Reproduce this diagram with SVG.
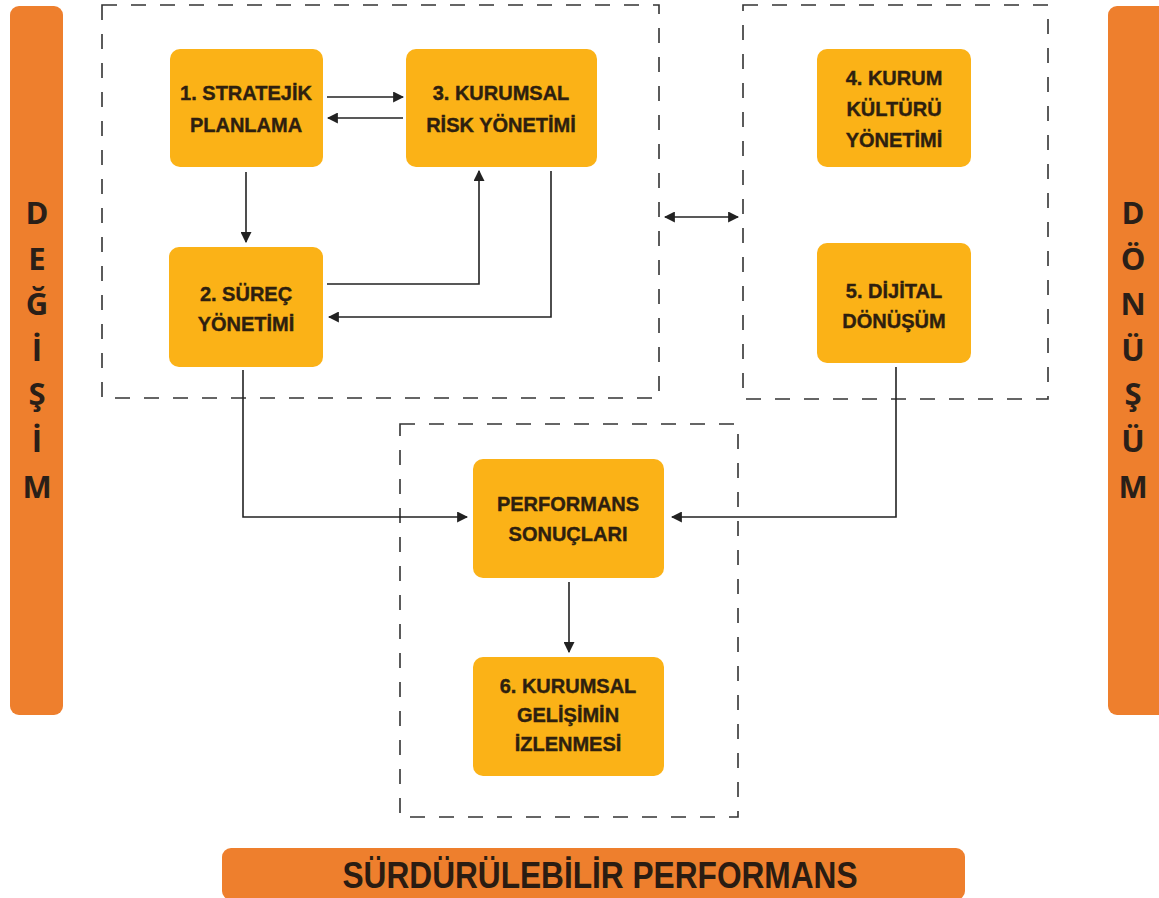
<svg xmlns="http://www.w3.org/2000/svg" width="1159" height="898" viewBox="0 0 1159 898">
<defs>
<style>
.bar{fill:#EE7F2D;}
.node{fill:#FBB217;}
.nt{font-family:"Liberation Sans",Arial,sans-serif;font-weight:700;font-size:20px;fill:#2E1F0F;stroke:#2E1F0F;stroke-width:0.4;text-anchor:middle;}
.vt{font-family:"Open Sans","Liberation Sans",sans-serif;font-weight:700;font-size:31px;fill:#2A1F18;text-anchor:middle;}
.bt{font-family:"Liberation Sans",Arial,sans-serif;font-weight:700;font-size:36px;fill:#2A1C12;text-anchor:middle;}
.dash{fill:none;stroke:#333;stroke-width:1.6;stroke-dasharray:15 14;}
.con{fill:none;stroke:#222;stroke-width:1.6;}
</style>
<marker id="ah" viewBox="0 0 10 10" refX="9" refY="5" markerWidth="11" markerHeight="11" markerUnits="userSpaceOnUse" orient="auto-start-reverse">
<path d="M0,0 L10,5 L0,10 z" fill="#222"/>
</marker>
</defs>
<rect width="1159" height="898" fill="#ffffff"/>

<g id="bar-degisim">
<rect class="bar" x="10" y="6" width="53" height="709" rx="9"/>
<text class="vt" x="37" y="224">D</text>
<text class="vt" x="37" y="270">E</text>
<text class="vt" x="37" y="315">Ğ</text>
<text class="vt" x="37" y="361">İ</text>
<text class="vt" x="37" y="405">Ş</text>
<text class="vt" x="37" y="452">İ</text>
<text class="vt" x="37" y="498">M</text>
</g>

<g id="bar-donusum">
<rect class="bar" x="1108" y="6" width="60" height="709" rx="9"/>
<text class="vt" x="1133" y="224">D</text>
<text class="vt" x="1133" y="270">Ö</text>
<text class="vt" x="1133" y="315">N</text>
<text class="vt" x="1133" y="361">Ü</text>
<text class="vt" x="1133" y="405">Ş</text>
<text class="vt" x="1133" y="452">Ü</text>
<text class="vt" x="1133" y="498">M</text>
</g>

<g id="bar-surdurulebilir">
<rect class="bar" x="222" y="848" width="743" height="52" rx="9"/>
<text class="bt" x="600" y="888" textLength="515" lengthAdjust="spacingAndGlyphs">SÜRDÜRÜLEBİLİR PERFORMANS</text>
</g>

<g id="groups">
<rect class="dash" x="102" y="5" width="557" height="393"/>
<rect class="dash" x="743" y="5" width="305" height="394"/>
<rect class="dash" x="400" y="424" width="338" height="393"/>
</g>

<g id="connectors">
<path class="con" d="M327,97 H403" marker-end="url(#ah)"/>
<path class="con" d="M403,118 H328" marker-end="url(#ah)"/>
<path class="con" d="M246,172 V242" marker-end="url(#ah)"/>
<path class="con" d="M327,284 H479 V171" marker-end="url(#ah)"/>
<path class="con" d="M551,171 V317 H329" marker-end="url(#ah)"/>
<path class="con" d="M665,217 H738" marker-start="url(#ah)" marker-end="url(#ah)"/>
<path class="con" d="M243,370 V517 H467" marker-end="url(#ah)"/>
<path class="con" d="M896,367 V517 H672" marker-end="url(#ah)"/>
<path class="con" d="M569,582 V652" marker-end="url(#ah)"/>
</g>

<g id="node1">
<rect class="node" x="170" y="49" width="153" height="118" rx="10"/>
<text class="nt" x="246" y="100">1. STRATEJİK</text>
<text class="nt" x="246" y="132">PLANLAMA</text>
</g>

<g id="node3">
<rect class="node" x="406" y="49" width="191" height="118" rx="10"/>
<text class="nt" x="501" y="100">3. KURUMSAL</text>
<text class="nt" x="501" y="132">RİSK YÖNETİMİ</text>
</g>

<g id="node2">
<rect class="node" x="169" y="247" width="154" height="120" rx="10"/>
<text class="nt" x="246" y="301">2. SÜREÇ</text>
<text class="nt" x="246" y="331">YÖNETİMİ</text>
</g>

<g id="node4">
<rect class="node" x="817" y="49" width="154" height="118" rx="10"/>
<text class="nt" x="894" y="85">4. KURUM</text>
<text class="nt" x="894" y="116">KÜLTÜRÜ</text>
<text class="nt" x="894" y="147">YÖNETİMİ</text>
</g>

<g id="node5">
<rect class="node" x="817" y="243" width="154" height="120" rx="10"/>
<text class="nt" x="894" y="298">5. DİJİTAL</text>
<text class="nt" x="894" y="328">DÖNÜŞÜM</text>
</g>

<g id="node-performans">
<rect class="node" x="473" y="459" width="191" height="119" rx="10"/>
<text class="nt" x="568" y="511">PERFORMANS</text>
<text class="nt" x="568" y="541">SONUÇLARI</text>
</g>

<g id="node6">
<rect class="node" x="473" y="657" width="191" height="119" rx="10"/>
<text class="nt" x="568" y="693">6. KURUMSAL</text>
<text class="nt" x="568" y="722">GELİŞİMİN</text>
<text class="nt" x="568" y="751">İZLENMESİ</text>
</g>
</svg>
